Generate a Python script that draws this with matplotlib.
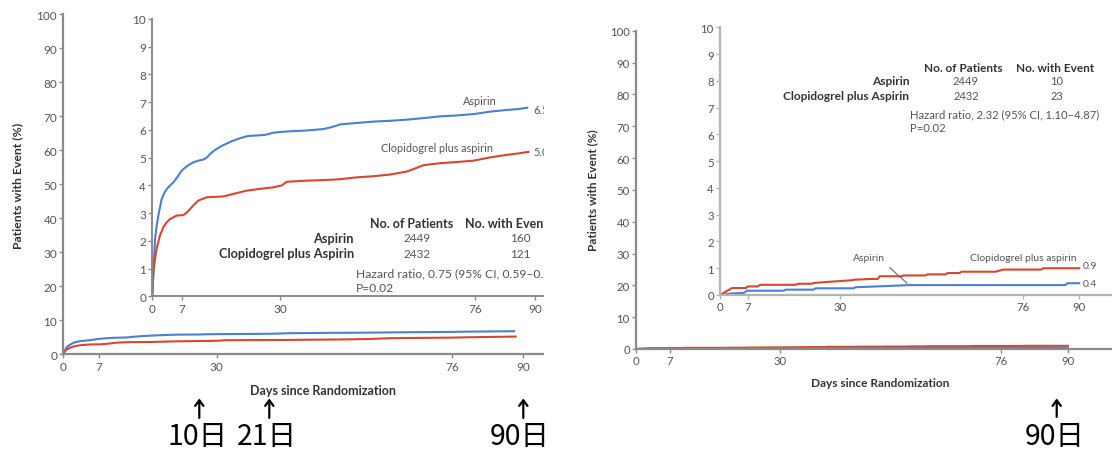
import matplotlib
matplotlib.use('Agg')
import matplotlib.pyplot as plt
from matplotlib.patches import Rectangle, FancyArrowPatch

# ---------------- data ----------------
day_ticks = [0, 7, 30, 76, 90]
main_yticks = [0, 10, 20, 30, 40, 50, 60, 70, 80, 90, 100]
inset_yticks = [0, 1, 2, 3, 4, 5, 6, 7, 8, 9, 10]

# Left panel (90-day outcome) - cumulative %
left_asp_days = [0, 0.3, 0.64, 1.0, 1.4, 1.8, 2.2, 2.8, 3.4, 4.2, 4.9, 5.9, 6.9, 7.9, 8.9, 9.8,
                 10.8, 12.0, 12.8, 13.6, 14.5, 15.6, 16.7, 18.5, 20.6, 22.5, 24.6, 26.5, 28.5,
                 30.5, 32.4, 36.3, 40.2, 42.2, 44.2, 48, 52, 56, 59.9, 64, 67.7, 71.5, 75.5,
                 79.5, 83.4, 86, 88.2]
left_asp_pct = [0, 1.0, 2.07, 2.5, 2.9, 3.2, 3.5, 3.72, 3.87, 4.0, 4.1, 4.3, 4.53, 4.66, 4.77, 4.84,
                4.89, 4.93, 5.0, 5.13, 5.25, 5.36, 5.45, 5.58, 5.7, 5.78, 5.8, 5.82, 5.9,
                5.93, 5.95, 5.98, 6.03, 6.1, 6.2, 6.25, 6.3, 6.33, 6.37, 6.43, 6.49, 6.52, 6.57,
                6.66, 6.72, 6.75, 6.8]
left_clo_days = [0, 0.25, 0.6, 1.0, 1.4, 1.8, 2.6, 3.4, 4.2, 5.7, 7.3, 8.0, 8.9, 9.8, 10.8, 12.8,
                 16.7, 19, 22.2, 26.1, 28.5, 30.5, 31.6, 36.3, 40.2, 44, 48.1, 52, 55.9, 59.9,
                 62, 63.8, 67.7, 71.5, 75.5, 77.5, 79.5, 83.4, 86, 88.5]
left_clo_pct = [0, 0.87, 1.3, 1.7, 1.95, 2.19, 2.49, 2.67, 2.79, 2.91, 2.93, 3.0, 3.15, 3.3, 3.45, 3.57,
                3.6, 3.69, 3.81, 3.89, 3.93, 4.0, 4.13, 4.17, 4.19, 4.22, 4.29, 4.33, 4.39, 4.5,
                4.62, 4.73, 4.8, 4.84, 4.89, 4.95, 5.01, 5.1, 5.15, 5.21]

# Right panel (bleeding) - cumulative %
right_asp_days = [0, 3, 6, 6.7, 15.9, 16.5, 23.4, 24, 33.4, 34, 41, 47.4, 86.5, 87, 90]
right_asp_pct = [0, 0.06, 0.08, 0.16, 0.16, 0.2, 0.2, 0.25, 0.25, 0.29, 0.33, 0.37, 0.37, 0.44, 0.44]
right_clo_days = [0, 3, 6.5, 7, 9.5, 10, 19, 19.5, 23, 23.5, 28, 33, 33.5, 38, 39.5, 40, 45.5, 46,
                  51.5, 52, 56.5, 57, 60, 60.5, 69, 71, 80.5, 81, 90]
right_clo_pct = [0, 0.26, 0.26, 0.32, 0.32, 0.38, 0.38, 0.42, 0.42, 0.45, 0.5, 0.55, 0.57, 0.6, 0.6,
                 0.7, 0.7, 0.73, 0.73, 0.77, 0.77, 0.82, 0.82, 0.87, 0.87, 0.95, 0.95, 1.0, 1.0]

groups = ['Aspirin', 'Clopidogrel plus Aspirin']
left_patients = ['2449', '2432']
left_events = ['160', '121']
right_patients = ['2449', '2432']
right_events = ['10', '23']
left_end_labels = ['6.5', '5.0']
right_end_labels = ['0.9', '0.4']
day_marks_left = ['10日', '21日', '90日']
day_marks_right = ['90日']

# ---------------- figure ----------------
W, H, DPI = 1112, 452, 100
fig = plt.figure(figsize=(W / DPI, H / DPI), dpi=DPI)
fig.patch.set_facecolor('white')

BLUE = '#4a7fd6'
RED = '#d8462e'
TXT = '#555555'
DARK = '#333333'
FONT = 'Lato'
CJK = ['Noto Sans CJK JP', 'DejaVu Sans']


def ax_px(x0, x1, ybot, ytop, z=1):
    ax = fig.add_axes([x0 / W, 1 - ybot / H, (x1 - x0) / W, (ybot - ytop) / H])
    ax.set_zorder(z)
    return ax


def ftext(x, y, s, **kw):
    kw.setdefault('family', FONT)
    return fig.text(x / W, 1 - y / H, s, **kw)


def style(ax, xmax, ymax, yticks, spine_color, lw, tsize):
    ax.set_xlim(0, xmax)
    ax.set_ylim(0, ymax)
    for s in ['top', 'right']:
        ax.spines[s].set_visible(False)
    for s in ['left', 'bottom']:
        ax.spines[s].set_color(spine_color)
        ax.spines[s].set_linewidth(lw)
    ax.set_xticks(day_ticks)
    ax.set_xticklabels([str(t) for t in day_ticks])
    ax.set_yticks(yticks)
    ax.set_yticklabels([str(t) for t in yticks])
    ax.tick_params(direction='out', length=3, width=1, color=spine_color,
                   labelsize=tsize, labelcolor=TXT, pad=1.5)
    for lab in ax.get_xticklabels() + ax.get_yticklabels():
        lab.set_family(FONT)
    ax.patch.set_facecolor('white')


# ---- Left panel ----
axL = ax_px(63.3, 543, 355.3, 15, z=1)
style(axL, 93.85, 100, main_yticks, '#8a8a8a', 1.6, 8.5)
axL.plot(left_asp_days, left_asp_pct, color=BLUE, lw=1.5)
axL.plot(left_clo_days, left_clo_pct, color=RED, lw=1.5)

axLi = ax_px(152.3, 543, 297.3, 20, z=2)
style(axLi, 91.9, 10, inset_yticks, '#8a8a8a', 1.4, 8.5)
axLi.plot(left_asp_days, left_asp_pct, color=BLUE, lw=1.5)
axLi.plot(left_clo_days, left_clo_pct, color=RED, lw=1.5)

ftext(480, 101.7, 'Aspirin', fontsize=7.8, color=TXT, ha='center', va='center')
ftext(436.7, 148.3, 'Clopidogrel plus aspirin', fontsize=7.8, color=TXT, ha='center', va='center')
ftext(533, 110, left_end_labels[0], fontsize=7.8, color=TXT, ha='left', va='center')
ftext(533, 152.7, left_end_labels[1], fontsize=7.8, color=TXT, ha='left', va='center')

ftext(411.7, 224, 'No. of Patients', fontsize=9, weight='bold', color=DARK, ha='center', va='center')
ftext(507, 224, 'No. with Event', fontsize=9, weight='bold', color=DARK, ha='center', va='center')
for i, (g, p, e) in enumerate(zip(groups, left_patients, left_events)):
    y = 239 + 15 * i
    ftext(354, y, g, fontsize=9.2, weight='bold', color=DARK, ha='right', va='center')
    ftext(416.7, y, p, fontsize=8.5, color=TXT, ha='center', va='center')
    ftext(520, y, e, fontsize=8.5, color=TXT, ha='center', va='center')
ftext(356, 273.3, 'Hazard ratio, 0.75 (95% CI, 0.59\u20130.95)', fontsize=8.7, color=TXT,
      ha='left', va='center')
ftext(356, 288.3, 'P=0.02', fontsize=8.7, color=TXT, ha='left', va='center')

ftext(323, 390.7, 'Days since Randomization', fontsize=9, weight='bold', color=DARK,
      ha='center', va='center')
ftext(17.3, 186, 'Patients with Event (%)', fontsize=8.8, weight='bold', color=DARK,
      ha='center', va='center', rotation=90)

# ---- Right panel ----
axR = ax_px(636, 1112, 350, 31.7, z=1)
style(axR, 99.2, 100, main_yticks, '#8a8a8a', 1.6, 8.2)
axR.plot(right_clo_days, right_clo_pct, color=RED, lw=1.5)
axR.plot(right_asp_days, right_asp_pct, color=BLUE, lw=1.5)

axRi = ax_px(720, 1112, 296, 28.3, z=2)
style(axRi, 98.2, 10, inset_yticks, '#b4b4b4', 1.6, 8.2)
axRi.plot(right_clo_days, right_clo_pct, color=RED, lw=1.5)
axRi.plot(right_asp_days, right_asp_pct, color=BLUE, lw=1.5)
axRi.annotate('', xy=(47.4, 0.37), xytext=(42.0, 1.09),
              arrowprops=dict(arrowstyle='-', color='#666666', lw=0.8))

ftext(869.3, 258.3, 'Aspirin', fontsize=7.5, color=TXT, ha='center', va='center')
ftext(1076, 258.3, 'Clopidogrel plus aspirin', fontsize=7.5, color=TXT, ha='right', va='center')
ftext(1083, 266.7, right_end_labels[0], fontsize=7.5, color=TXT, ha='left', va='center')
ftext(1083, 284.3, right_end_labels[1], fontsize=7.5, color=TXT, ha='left', va='center')

ftext(963.3, 68.3, 'No. of Patients', fontsize=8.5, weight='bold', color=DARK, ha='center', va='center')
ftext(1055.3, 68.3, 'No. with Event', fontsize=8.5, weight='bold', color=DARK, ha='center', va='center')
for i, (g, p, e) in enumerate(zip(groups, right_patients, right_events)):
    y = 81.7 + 15 * i
    ftext(909.3, y, g, fontsize=8.6, weight='bold', color=DARK, ha='right', va='center')
    ftext(966, y, p, fontsize=8, color=TXT, ha='center', va='center')
    ftext(1056.7, y, e, fontsize=8, color=TXT, ha='center', va='center')
ftext(910, 115, 'Hazard ratio, 2.32 (95% CI, 1.10\u20134.87)', fontsize=8.1, color=TXT,
      ha='left', va='center')
ftext(910, 128.3, 'P=0.02', fontsize=8.1, color=TXT, ha='left', va='center')

ftext(879.7, 384, 'Days since Randomization', fontsize=8.6, weight='bold', color=DARK,
      ha='center', va='center')
ftext(592.3, 190.5, 'Patients with Event (%)', fontsize=8.5, weight='bold', color=DARK,
      ha='center', va='center', rotation=90)

# ---- white masks imitating the cropped left image ----
fig.add_artist(Rectangle((543.5 / W, 1 - 375 / H), (578 - 543.5) / W, 375 / H,
                         transform=fig.transFigure, facecolor='white', edgecolor='none', zorder=20))
fig.add_artist(Rectangle((0, 1 - 13 / H), 543.5 / W, 13 / H,
                         transform=fig.transFigure, facecolor='white', edgecolor='none', zorder=20))

# ---- arrows and day marks ----
def arrow(x, y_top, y_bot):
    fig.add_artist(FancyArrowPatch((x / W, 1 - y_bot / H), (x / W, 1 - y_top / H),
                                   transform=fig.transFigure, arrowstyle='->,head_length=4,head_width=3',
                                   lw=1.6, color='black', mutation_scale=1, zorder=21))

for x, lab, xc in zip([199.3, 269.3, 523.3], day_marks_left, [198, 267, 519.5]):
    arrow(x, 396.7, 421.7)
    fig.text(xc / W, 1 - 445 / H, lab, family=CJK, fontsize=20.5, color='black',
             ha='center', va='baseline', zorder=21)
for x, lab, xc in zip([1056.7], day_marks_right, [1055]):
    arrow(x, 396.7, 420.7)
    fig.text(xc / W, 1 - 445 / H, lab, family=CJK, fontsize=20.5, color='black',
             ha='center', va='baseline', zorder=21)

fig.savefig('out.png', dpi=DPI, facecolor='white')
